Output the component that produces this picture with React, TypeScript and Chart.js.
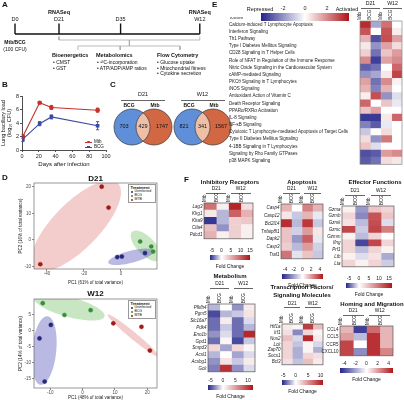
import React, { useEffect, useRef } from 'react';
import { Chart, registerables } from 'chart.js';

Chart.register(...registerables);
const FONT = '"Liberation Sans", Arial, Helvetica, sans-serif';
Chart.defaults.font.family = FONT;

// ---------------- DATA ----------------
// A: study timeline (schematic spacing units)
const timelineLabels = ['D0', 'D21', 'D35', 'W12'];
const timelineUnits = [0, 10, 24, 42];
const rnaSeqAt = ['D21', 'W12'];

// B: lung bacillary load
const infectionDays = [1, 21, 35, 90];
const mtbLoad = [2.0, 7.0, 6.3, 5.9];
const mtbLoadErr = [0.25, 0.12, 0.3, 0.3];
const bcgLoad = [1.6, 3.9, 4.9, 3.6];
const bcgLoadErr = [0.35, 0.3, 0.3, 0.6];

// C: Venn counts
const vennTimes = ['D21', 'W12'];
const vennBcgOnly = [703, 821];
const vennShared = [429, 341];
const vennMtbOnly = [1747, 1567];

// D: PCA
const pcaGroups = ['Uninfected', 'BCG', 'MTB'];
const d21Uninf = [[-2, -6.5], [0.5, -6.3], [13, -5]];
const d21Bcg = [[10.4, -0.6], [17.4, -4.4], [16.4, -2.5]];
const d21Mtb = [[-10.4, 20.1], [-6.7, 12.2], [-43.6, -9.2]];
const w12Uninf = [[-9.8, 1.7], [-13.3, -2.5], [-11.7, -16]];
const w12Bcg = [[-12.3, 8.5], [-5.6, 4.8], [2.5, 6.3]];
const w12Mtb = [[9.5, 2.2], [18.2, 1.1], [20.8, -6.3]];
// ellipses: centre, semi-axis vector u, semi-axis vector v (data units)
const d21Ellipses = [
  { g: 2, c: [-24.2, 5.3], u: [22.5, 16.1], v: [9, -6] },
  { g: 1, c: [13.6, -2.3], u: [7.6, -5.3], v: [3.4, 2.4] },
  { g: 0, c: [5.4, -6.4], u: [12.2, 2.2], v: [0.8, -2.2] },
];
const w12Ellipses = [
  { g: 1, c: [-4.1, 7.3], u: [10.9, -2.5], v: [-0.75, 3.4] },
  { g: 0, c: [-11.9, -6.3], u: [1.06, 10.7], v: [3.75, -0.38] },
  { g: 2, c: [15.6, -1.6], u: [7.5, -5.7], v: [-2.4, 3.3] },
];

// E: pathway z-scores (cols: D21 Mtb, D21 BCG, W12 Mtb, W12 BCG)
const pathways = [
  'Calcium-induced T Lymphocyte Apoptosis',
  'Interferon Signaling',
  'Th1 Pathway',
  'Type I Diabetes Mellitus Signaling',
  'CD28 Signaling in T Helper Cells',
  'Role of NFAT in Regulation of the Immune Response',
  'Nitric Oxide Signaling in the Cardiovascular System',
  'cAMP-mediated Signaling',
  'PKCθ Signaling in T Lymphocytes',
  'iNOS Signaling',
  'Antioxidant Action of Vitamin C',
  'Death Receptor Signaling',
  'PPARα/RXRα Activation',
  'IL-8 Signaling',
  'NF-κB Signaling',
  'Cytotoxic T Lymphocyte-mediated Apoptosis of Target Cells',
  'Type II Diabetes Mellitus Signaling',
  '4-1BB Signaling in T Lymphocytes',
  'Signaling by Rho Family GTPases',
  'p38 MAPK Signaling',
];
const pathwayZ = [
  [3.6, -1.6, 2.4, 0],
  [2.9, 0, 2.9, 0.3],
  [1.3, -3.2, 3.0, 1.6],
  [0.4, -2.0, 1.6, 0.6],
  [0.8, -2.6, 1.0, 1.7],
  [2.0, -3.5, 1.6, 2.0],
  [-2.9, -2.6, 0, 2.6],
  [-2.0, -1.6, 0.4, 3.2],
  [1.6, -2.6, 2.0, 0.2],
  [1.3, -2.3, 1.3, 0],
  [0.3, 3.0, -2.0, -0.6],
  [2.6, 0, 1.0, -0.4],
  [1.0, 1.6, 0, 0],
  [-3.6, -3.6, 0.4, 2.6],
  [-2.3, -3.0, -0.4, 0],
  [-1.0, 0, 0.6, 0],
  [0.6, -2.0, 2.3, 0],
  [1.0, -0.6, 0, 0],
  [-3.2, -3.0, 1.7, 2.0],
  [-3.0, -2.6, 0.6, 0.4],
];
const zTicks = [-2, 0, 2];

// F: fold changes
const colLabels = ['Mtb', 'BCG', 'Mtb', 'BCG'];
const inhibGenes = ['Lag3', 'Klrg1', 'Klra9', 'Ctla4', 'Pdcd1'];
const inhibFC = [[9, 1, 14, 2], [1.5, -2, 10, 5], [-5.5, -2, 3, 3.5], [4, -3, 3, 1], [5, 1, 3, 1]];
const apopGenes = ['Casp4', 'Casp12', 'Bcl2l14', 'Tnfaip8l1', 'Dapk2', 'Casp3', 'Traf1'];
const apopFC = [[1.5, 0, 2.5, 1.5], [0.5, -1.2, 1.5, -0.5], [4.2, -1.5, 4.0, -1.2], [1.2, -1.0, 2.0, 0.5], [1.2, -2.2, 3.2, -0.5], [1.0, -1.5, 2.0, -1.0], [2.8, -0.6, 1.2, -1.2]];
const effGenes = ['Gzma', 'Gzmb', 'Gzmk', 'Gzmc', 'Gzmm', 'Ifng', 'Prf1', 'Ltb', 'Lta'];
const effFC = [[1, -3, 4, 3], [3, -3.5, 12, 4], [2, -2, 12.5, -1], [13, -1.5, 13, 9], [1, -2, 3, 0], [3, -5.5, 13, 3], [3, -2, 3, 1], [1, -1, 2, -2.5], [3, 1, 3, -1.5]];
const metabGenes = ['Pfkfb4', 'Pgm5', 'Slc16a7', 'Pdk4', 'Eno1b', 'Gpd1', 'Smpd3', 'Acsl1', 'Acsbg1', 'Gck'];
const metabFC = [[-2, 0, -3, 1], [-5, -2, -1.5, 1.5], [-4, 1, -4, -1], [-4, -1.5, -4, -2], [-3, -1, -4, 11], [-4, 0.5, -5, -1.5], [2, -2.5, 2, 0.5], [-2, 0, -2.5, -1], [-3, 1.5, -1.5, 1], [-3.5, 10.5, -3, -1]];
const tfGenes = ['Hif1a', 'Irf1', 'Nos2', 'Lck', 'Zap70', 'Socs1', 'Bcl3'];
const tfFC = [[1, 0.5, 9, 3], [1.5, -3, 2, 0.5], [3, -1, 10, 1], [2, -1.5, 0.5, -1], [2, -2, 0.5, -2], [2, -2, 2, 1.5], [1.5, -1.5, 3, 1]];
const homingGenes = ['CCL4', 'CCL5', 'CCR5', 'CXCL10'];
const homingFC = [[1.5, -4.2, 3, 1.5], [2, -1.5, 4.2, 1.5], [3.8, 0, 4.2, 1.5], [3.8, -2.5, 4.2, 2.5]];
const fcTicks15 = [-5, 0, 5, 10, 15];
const fcTicks10 = [-5, 0, 5, 10];
const fcTicks4 = [-4, -2, 0, 2, 4];

// ---------------- STYLE ----------------
const BLUE = [36, 36, 138];
const RED = [176, 20, 24];
function divColor(v: number, min: number, max: number) {
  const t = v >= 0 ? Math.min(v / max, 1) : Math.min(v / min, 1);
  const c = v >= 0 ? RED : BLUE;
  const m = (a: number) => Math.round(255 + (a - 255) * t);
  return `rgb(${m(c[0])},${m(c[1])},${m(c[2])})`;
}
const rgb = (c: number[]) => `rgb(${c[0]},${c[1]},${c[2]})`;
const groupColor = ['#27297a', '#3a8d3a', '#a11a1a'];
const groupFill = ['rgba(70,70,185,0.38)', 'rgba(110,190,95,0.38)', 'rgba(220,100,100,0.33)'];
const noGrid = { display: false, drawTicks: false, tickLength: 0 };
const base = { responsive: false, animation: false, devicePixelRatio: 1, events: [] as any[] };
const pad = (top: number, right: number, bottom: number, left: number) => ({ autoPadding: false, padding: { top, right, bottom, left } });

const boxPlugin = (color: string, w: number) => ({
  id: 'boxline',
  afterDatasetsDraw(chart: any) {
    const { ctx, chartArea: a } = chart;
    ctx.save();
    ctx.strokeStyle = color;
    ctx.lineWidth = w;
    ctx.strokeRect(a.left, a.top, a.right - a.left, a.bottom - a.top);
    ctx.restore();
  },
});

// ---------------- CONFIGS ----------------
function timelineConfig() {
  const seg = (pts: number[][], color: string, w: number) => ({
    data: pts.map(([x, y]) => ({ x, y })), showLine: true, borderColor: color, borderWidth: w, pointRadius: 0, fill: false,
  });
  const u = timelineUnits;
  const d21 = u[timelineLabels.indexOf('D21')];
  const w12 = u[timelineLabels.indexOf('W12')];
  const mid = (d21 + w12) / 2;
  const ds = [
    seg([[u[0], 34], [u[3], 34]], '#111', 1.4),
    ...u.map((p) => seg([[p, 23.5], [p, 34]], '#111', 1.4)),
    seg([[d21, 36.5], [d21, 40], [w12, 40], [w12, 36.5]], '#aaa', 0.8),
    seg([[mid, 40], [mid, 46]], '#aaa', 0.8),
    seg([[14.3, 50], [14.3, 46], [37.5, 46], [37.5, 50]], '#aaa', 0.8),
    seg([[23.9, 46], [23.9, 50]], '#aaa', 0.8),
  ];
  return {
    type: 'scatter',
    data: { datasets: ds },
    options: {
      ...base,
      layout: pad(0, 0, 0, 0),
      plugins: { legend: { display: false }, tooltip: { enabled: false } },
      scales: { x: { display: false, min: -3.41, max: 44.32 }, y: { display: false, min: 0, max: 80, reverse: true } },
    },
  };
}

const errorBarPlugin = (errs: number[][]) => ({
  id: 'errbars',
  afterDatasetsDraw(chart: any) {
    const { ctx, scales: { x, y } } = chart;
    chart.data.datasets.forEach((ds: any, di: number) => {
      ctx.save();
      ctx.strokeStyle = ds.borderColor;
      ctx.lineWidth = 0.9;
      ds.data.forEach((p: any, k: number) => {
        const e = errs[di][k];
        const px = x.getPixelForValue(p.x);
        const y0 = y.getPixelForValue(p.y - e), y1 = y.getPixelForValue(p.y + e);
        ctx.beginPath();
        ctx.moveTo(px, y0); ctx.lineTo(px, y1);
        ctx.moveTo(px - 1.6, y0); ctx.lineTo(px + 1.6, y0);
        ctx.moveTo(px - 1.6, y1); ctx.lineTo(px + 1.6, y1);
        ctx.stroke();
      });
      ctx.restore();
    });
  },
});

const tickGrid = { display: true, drawOnChartArea: false, drawTicks: true, tickLength: 2, color: '#222', lineWidth: 0.8 };

function loadConfig() {
  const mk = (vals: number[], color: string, style: string) => ({
    data: infectionDays.map((d, k) => ({ x: d, y: vals[k] })),
    borderColor: color, backgroundColor: color, borderWidth: 1.1,
    pointRadius: 1.8, pointStyle: style, pointBackgroundColor: color, pointBorderColor: color, tension: 0,
  });
  return {
    type: 'line',
    data: { datasets: [mk(mtbLoad, '#c8302c', 'circle'), mk(bcgLoad, '#3b4ba3', 'rect')] },
    options: {
      ...base,
      layout: pad(10, 6, 0, 0),
      plugins: { legend: { display: false }, tooltip: { enabled: false } },
      scales: {
        x: {
          type: 'linear', min: 0, max: 100,
          ticks: { stepSize: 20, font: { size: 5.5 }, color: '#222', padding: 1, maxRotation: 0 },
          grid: tickGrid, border: { display: true, color: '#222', width: 0.8 },
          title: { display: true, text: 'Days after infection', font: { size: 6 }, color: '#111', padding: { top: 1, bottom: 0 } },
          afterFit: (s: any) => { s.height = 18; },
        },
        y: {
          type: 'linear', min: 0, max: 8,
          ticks: { stepSize: 2, font: { size: 5.5 }, color: '#222', padding: 1 },
          grid: tickGrid, border: { display: true, color: '#222', width: 0.8 },
          title: { display: true, text: ['Lung bacillary load', '(log₁₀ CFU)'], font: { size: 5.5 }, color: '#111', padding: { top: 0, bottom: 1 } },
          afterFit: (s: any) => { s.width = 22; },
        },
      },
    },
    plugins: [errorBarPlugin([mtbLoadErr, bcgLoadErr])],
  };
}

// Venn layout (canvas px units, canvas starts at x=108)
const vennCentres = [[24, 46], [84, 105]];
const vennY = 27;
const vennR = 18;
function vennConfig() {
  const bcg = vennCentres.map((c) => ({ x: c[0], y: vennY }));
  const mtb = vennCentres.map((c) => ({ x: c[1], y: vennY }));
  const lens = {
    id: 'lens',
    afterDatasetsDraw(chart: any) {
      const { ctx, scales: { x, y } } = chart;
      vennCentres.forEach((c) => {
        const ax = x.getPixelForValue(c[0]), bx = x.getPixelForValue(c[1]), cy = y.getPixelForValue(vennY);
        ctx.save();
        ctx.beginPath(); ctx.arc(ax, cy, vennR, 0, Math.PI * 2); ctx.clip();
        ctx.beginPath(); ctx.arc(bx, cy, vennR, 0, Math.PI * 2);
        ctx.fillStyle = '#eebfa7'; ctx.fill();
        ctx.restore();
        ctx.save();
        ctx.strokeStyle = '#3a3a3a'; ctx.lineWidth = 0.7;
        ctx.beginPath(); ctx.arc(ax, cy, vennR, 0, Math.PI * 2); ctx.stroke();
        ctx.beginPath(); ctx.arc(bx, cy, vennR, 0, Math.PI * 2); ctx.stroke();
        ctx.restore();
      });
    },
  };
  return {
    type: 'scatter',
    data: {
      datasets: [
        { data: bcg, pointRadius: vennR, pointBackgroundColor: '#5f8fd8', pointBorderWidth: 0 },
        { data: mtb, pointRadius: vennR, pointBackgroundColor: '#d26843', pointBorderWidth: 0 },
      ],
    },
    options: {
      ...base,
      clip: false,
      layout: pad(0, 0, 0, 0),
      plugins: { legend: { display: false }, tooltip: { enabled: false } },
      scales: { x: { display: false, min: 0, max: 126 }, y: { display: false, min: 0, max: 54, reverse: true } },
    },
    plugins: [lens],
  };
}

const ellipsePlugin = (ells: any[]) => ({
  id: 'ellipses',
  beforeDatasetsDraw(chart: any) {
    const { ctx, chartArea: a, scales: { x, y } } = chart;
    ctx.save();
    ctx.beginPath(); ctx.rect(a.left, a.top, a.right - a.left, a.bottom - a.top); ctx.clip();
    ells.forEach((e) => {
      ctx.beginPath();
      for (let k = 0; k <= 90; k++) {
        const t = (k / 90) * Math.PI * 2;
        const dx = e.c[0] + Math.cos(t) * e.u[0] + Math.sin(t) * e.v[0];
        const dy = e.c[1] + Math.cos(t) * e.u[1] + Math.sin(t) * e.v[1];
        const px = x.getPixelForValue(dx), py = y.getPixelForValue(dy);
        if (k) ctx.lineTo(px, py); else ctx.moveTo(px, py);
      }
      ctx.closePath();
      ctx.fillStyle = groupFill[e.g];
      ctx.fill();
    });
    ctx.restore();
  },
});

function pcaConfig(sets: number[][][], ells: any[], xr: number[], yr: number[], xs: number, ys: number, xTitle: string, yTitle: string, padTop: number, xH: number) {
  const pcaGrid = { display: true, drawOnChartArea: false, drawTicks: true, tickLength: 2, color: '#444', lineWidth: 0.6 };
  return {
    type: 'scatter',
    data: {
      datasets: sets.map((pts, g) => ({
        label: pcaGroups[g],
        data: pts.map(([x, y]) => ({ x, y })),
        pointRadius: 2.1, pointBackgroundColor: groupColor[g], pointBorderColor: groupColor[g], pointBorderWidth: 0.4,
      })),
    },
    options: {
      ...base,
      layout: pad(padTop, 3, 0, 0),
      plugins: { legend: { display: false }, tooltip: { enabled: false } },
      scales: {
        x: {
          type: 'linear', min: xr[0], max: xr[1],
          ticks: { stepSize: xs, includeBounds: false, font: { size: 4.5 }, color: '#4d4d4d', padding: 0.5, maxRotation: 0 },
          grid: pcaGrid, border: { display: false },
          title: { display: true, text: xTitle, font: { size: 4.5 }, color: '#222', padding: { top: 0.5, bottom: 0 } },
          afterFit: (s: any) => { s.height = xH; },
        },
        y: {
          type: 'linear', min: yr[0], max: yr[1],
          ticks: { stepSize: ys, includeBounds: false, font: { size: 4.5 }, color: '#4d4d4d', padding: 1 },
          grid: pcaGrid, border: { display: false },
          title: { display: true, text: yTitle, font: { size: 4.5 }, color: '#222', padding: { top: 1, bottom: 0 } },
          afterFit: (s: any) => { s.width = 17; },
        },
      },
    },
    plugins: [ellipsePlugin(ells), boxPlugin('#555', 0.6)],
  };
}

function heatConfig(p: any) {
  const spans: number[][] = p.spans;
  const total = spans[spans.length - 1][1];
  const centres = spans.map((s) => (s[0] + s[1]) / 2);
  return {
    type: 'bar',
    data: {
      labels: p.rows,
      datasets: colLabels.map((c, ci) => ({
        label: c,
        data: p.rows.map(() => [spans[ci][0], spans[ci][1]]),
        backgroundColor: p.rows.map((_: any, ri: number) => divColor(p.vals[ri][ci], p.min, p.max)),
        borderWidth: 0, barPercentage: 1, categoryPercentage: 1, grouped: false,
      })),
    },
    options: {
      ...base,
      indexAxis: 'y',
      layout: pad(0, p.padR, p.padB, 0),
      plugins: { legend: { display: false }, tooltip: { enabled: false } },
      scales: {
        x: {
          type: 'linear', position: 'top', min: 0, max: total,
          grid: noGrid, border: { display: false },
          afterBuildTicks: (s: any) => { s.ticks = centres.map((v) => ({ value: v })); },
          afterFit: (s: any) => { s.height = p.headerH; },
          ticks: { autoSkip: false, minRotation: 90, maxRotation: 90, padding: 1, font: { size: p.colFont }, color: '#222', callback: (_v: any, i: number) => colLabels[i] },
        },
        y: {
          type: 'category',
          grid: noGrid, border: { display: false },
          afterFit: (s: any) => { s.width = p.labelW; },
          ticks: { autoSkip: false, padding: p.labelPad, crossAlign: p.align, font: { size: p.font, style: p.italic ? 'italic' : 'normal' }, color: '#222' },
        },
      },
    },
    plugins: [boxPlugin(p.border, 0.7)],
  };
}

function colorbarConfig(min: number, max: number, ticks: number[], font: number, topH: number) {
  return {
    type: 'bar',
    data: {
      labels: ['fc'],
      datasets: [{
        data: [[min, max]],
        backgroundColor: (ctx: any) => {
          const chart = ctx.chart;
          if (!chart.chartArea || !chart.scales.x) return 'rgba(0,0,0,0)';
          const x0 = chart.scales.x.getPixelForValue(min), x1 = chart.scales.x.getPixelForValue(max);
          const g = chart.ctx.createLinearGradient(x0, 0, x1, 0);
          g.addColorStop(0, rgb(BLUE));
          g.addColorStop(-min / (max - min), '#ffffff');
          g.addColorStop(1, rgb(RED));
          return g;
        },
        borderWidth: 0, barPercentage: 1, categoryPercentage: 1,
      }],
    },
    options: {
      ...base,
      indexAxis: 'y',
      layout: pad(0, 6, 1, 6),
      plugins: { legend: { display: false }, tooltip: { enabled: false } },
      scales: {
        x: {
          type: 'linear', position: 'top', min, max,
          grid: noGrid, border: { display: false },
          afterBuildTicks: (s: any) => { s.ticks = ticks.map((v) => ({ value: v })); },
          afterFit: (s: any) => { s.height = topH; },
          ticks: { padding: 1, maxRotation: 0, font: { size: font }, color: '#222' },
        },
        y: { display: false },
      },
    },
  };
}

// ---------------- COMPONENTS ----------------
type Box = { x: number; y: number; w: number; h: number };
function ChartBox({ box, make }: { box: Box; make: () => any }) {
  const ref = useRef<HTMLCanvasElement | null>(null);
  useEffect(() => {
    if (!ref.current) return;
    const chart = new Chart(ref.current, make());
    return () => chart.destroy();
  }, []);
  return <canvas ref={ref} width={box.w} height={box.h} style={{ position: 'absolute', left: box.x, top: box.y, width: box.w, height: box.h }} />;
}

function Tx({ x, y, s = 5, b = false, i = false, a = 'm', c = '#111', t }: any) {
  const tx = a === 's' ? '0%' : a === 'e' ? '-100%' : '-50%';
  return (
    <div style={{ position: 'absolute', left: x, top: y, fontSize: s, fontWeight: b ? 700 : 400, fontStyle: i ? 'italic' : 'normal', color: c, whiteSpace: 'nowrap', lineHeight: 1, transform: `translate(${tx},-50%)` }}>{t}</div>
  );
}
function ULine({ x0, x1, y, c = '#666' }: any) {
  return <div style={{ position: 'absolute', left: x0, top: y, width: x1 - x0, height: 0, borderTop: `1px solid ${c}` }} />;
}

type FPanel = { key: string; title: string[]; tx: number; ty: number; rows: string[]; vals: number[][]; rect: number[]; labelW: number; headerH: number; hy: number; min: number; max: number; ticks: number[]; bar: number[]; italic: boolean };
const fPanels: FPanel[] = [
  { key: 'inhib', title: ['Inhibitory Receptors'], tx: 230, ty: 182, rows: inhibGenes, vals: inhibFC, rect: [204, 203, 253, 242], labelW: 20, headerH: 10, hy: 189, min: -6, max: 15, ticks: fcTicks15, bar: [210, 255, 250, 260], italic: true },
  { key: 'apop', title: ['Apoptosis'], tx: 302, ty: 182, rows: apopGenes, vals: apopFC, rect: [281, 204, 323, 262], labelW: 26, headerH: 10, hy: 189, min: -4.7, max: 4.7, ticks: fcTicks4, bar: [282, 274, 323, 279], italic: true },
  { key: 'eff', title: ['Effector Functions'], tx: 375, ty: 182, rows: effGenes, vals: effFC, rect: [342, 206, 394, 270], labelW: 20, headerH: 10, hy: 191, min: -6.5, max: 16.5, ticks: fcTicks15, bar: [346, 283, 392, 288], italic: true },
  { key: 'metab', title: ['Metabolism'], tx: 230, ty: 276, rows: metabGenes, vals: metabFC, rect: [208, 304, 255, 375], labelW: 26, headerH: 11, hy: 284, min: -6, max: 12, ticks: fcTicks10, bar: [208, 385, 253, 390], italic: true },
  { key: 'tf', title: ['Transcription Factors/', 'Signaling Molecules'], tx: 302, ty: 287, rows: tfGenes, vals: tfFC, rect: [282, 324, 323, 368], labelW: 22, headerH: 11, hy: 303.5, min: -5.5, max: 11, ticks: fcTicks10, bar: [282, 380, 323, 385], italic: true },
  { key: 'homing', title: ['Homing and Migration'], tx: 372, ty: 304, rows: homingGenes, vals: homingFC, rect: [340, 326, 393, 359], labelW: 26, headerH: 10, hy: 311, min: -4.8, max: 4.8, ticks: fcTicks4, bar: [340, 368, 393, 373], italic: false },
];

function FPanelView({ p }: { p: FPanel }) {
  const [l, t, r, b] = p.rect;
  const cw = (r - l) / 4;
  const hbox = { x: l - p.labelW, y: t - p.headerH, w: p.labelW + (r - l) + 1, h: p.headerH + (b - t) + 1 };
  const [bl, bt, br, bb] = p.bar;
  const cbox = { x: bl - 6, y: bt - 7, w: br - bl + 12, h: 7 + (bb - bt) + 1 };
  const d21 = l + cw, w12 = l + 3 * cw;
  return (
    <>
      {p.title.map((tt, k) => <Tx key={k} x={p.tx} y={p.ty + k * 8} s={6} b t={tt} />)}
      <Tx x={d21} y={p.hy} s={4.8} t="D21" />
      <Tx x={w12} y={p.hy} s={4.8} t="W12" />
      <ULine x0={d21 - cw * 0.8} x1={d21 + cw * 0.8} y={p.hy + 3.5} />
      <ULine x0={w12 - cw * 0.8} x1={w12 + cw * 0.8} y={p.hy + 3.5} />
      <ChartBox box={hbox} make={() => heatConfig({ rows: p.rows, vals: p.vals, spans: [[0, 1], [1, 2], [2, 3], [3, 4]], min: p.min, max: p.max, labelW: p.labelW, headerH: p.headerH, padR: 1, padB: 1, font: 4.5, colFont: 4.5, labelPad: 1.5, italic: p.italic, align: 'near', border: '#555' })} />
      <ChartBox box={cbox} make={() => colorbarConfig(p.min, p.max, p.ticks, 5, 7)} />
      <Tx x={(bl + br) / 2} y={bb + 5.5} s={5} t="Fold Change" />
    </>
  );
}

function PcaLegend({ x, y }: any) {
  return (
    <div style={{ position: 'absolute', left: x, top: y, width: 28, height: 19, border: '1px solid #999', boxSizing: 'border-box', background: '#fff' }}>
      <Tx x={1.5} y={3} s={4} b a="s" t="Treatment" />
      {pcaGroups.map((g, k) => (
        <React.Fragment key={g}>
          <div style={{ position: 'absolute', left: 1.8, top: 6.8 + k * 4 - 1.3, width: 2.6, height: 2.6, borderRadius: '50%', background: groupColor[k] }} />
          <Tx x={5.5} y={6.8 + k * 4} s={3.5} a="s" t={g} />
        </React.Fragment>
      ))}
    </div>
  );
}

export default function App() {
  const tlPx = (u: number) => 15 + u * 4.4;
  return (
    <div style={{ position: 'absolute', left: 0, top: 0, width: 404, height: 400, background: '#fff', overflow: 'hidden', fontFamily: FONT, color: '#111' }}>
      {/* A */}
      <ChartBox box={{ x: 0, y: 0, w: 210, h: 80 }} make={timelineConfig} />
      <Tx x={2} y={5} s={8} b a="s" t="A" />
      {timelineLabels.map((lab, k) => (
        <React.Fragment key={lab}>
          <Tx x={tlPx(timelineUnits[k])} y={19.5} s={5.5} t={lab} />
          {rnaSeqAt.includes(lab) && <Tx x={tlPx(timelineUnits[k])} y={13} s={5.5} b t="RNASeq" />}
        </React.Fragment>
      ))}
      <Tx x={15} y={42} s={5} b t="Mtb/BCG" />
      <Tx x={15} y={48.5} s={5} t="(100 CFU)" />
      <Tx x={52} y={56} s={5.5} b a="s" t="Bioenergetics" />
      <Tx x={53} y={62} s={5} a="s" t="• CMST" />
      <Tx x={53} y={67.5} s={5} a="s" t="• GST" />
      <Tx x={96} y={56} s={5.5} b a="s" t="Metabolomics" />
      <Tx x={97} y={62} s={5} a="s" t="• ¹³C-incorporation" />
      <Tx x={97} y={67.5} s={5} a="s" t="• ATP/ADP/AMP ratios" />
      <Tx x={157} y={56} s={5.5} b a="s" t="Flow Cytometry" />
      <Tx x={157} y={62} s={5} a="s" t="• Glucose uptake" />
      <Tx x={157} y={67.5} s={5} a="s" t="• Mitochondrial fitness" />
      <Tx x={157} y={73} s={5} a="s" t="• Cytokine secretion" />

      {/* B */}
      <ChartBox box={{ x: 0, y: 86, w: 112, h: 82 }} make={loadConfig} />
      <Tx x={2} y={85} s={8} b a="s" t="B" />
      <div style={{ position: 'absolute', left: 85, top: 141.5, width: 7, height: 0, borderTop: '1px solid #c8302c' }} />
      <div style={{ position: 'absolute', left: 87.3, top: 140.8, width: 2.6, height: 2.6, borderRadius: '50%', background: '#c8302c' }} />
      <Tx x={94} y={142} s={4.5} a="s" t="Mtb" />
      <div style={{ position: 'absolute', left: 85, top: 146.5, width: 7, height: 0, borderTop: '1px solid #3b4ba3' }} />
      <div style={{ position: 'absolute', left: 87.3, top: 145.8, width: 2.6, height: 2.6, background: '#3b4ba3' }} />
      <Tx x={94} y={147} s={4.5} a="s" t="BCG" />

      {/* C */}
      <ChartBox box={{ x: 108, y: 100, w: 126, h: 54 }} make={vennConfig} />
      <Tx x={110} y={85} s={8} b a="s" t="C" />
      {vennTimes.map((tp, k) => {
        const bx = vennCentres[k][0] + 108, mx = vennCentres[k][1] + 108;
        const cx = (bx + mx) / 2;
        return (
          <React.Fragment key={tp}>
            <Tx x={cx} y={95} s={5.5} t={tp} />
            <ULine x0={cx - 22} x1={cx + 22} y={99.5} />
            <Tx x={bx - 3} y={105} s={5} b t="BCG" />
            <Tx x={mx + 1} y={105} s={5} b t="Mtb" />
            <Tx x={bx - 8} y={127} s={5.5} t={String(vennBcgOnly[k])} />
            <Tx x={cx} y={127} s={5.5} t={String(vennShared[k])} />
            <Tx x={mx + 8} y={127} s={5.5} t={String(vennMtbOnly[k])} />
          </React.Fragment>
        );
      })}

      {/* D */}
      <Tx x={2} y={178} s={8} b a="s" t="D" />
      <Tx x={95.5} y={179} s={8} b t="D21" />
      <ChartBox box={{ x: 17, y: 176, w: 143, h: 109 }} make={() => pcaConfig([d21Uninf, d21Bcg, d21Mtb], d21Ellipses, [-47, 19.5], [-11, 21.5], 20, 10, 'PC1 (61% of total variance)', 'PC2 (16% of total variance)', 7, 16)} />
      <PcaLegend x={128} y={184} />
      <Tx x={95.5} y={294} s={8} b t="W12" />
      <ChartBox box={{ x: 17, y: 293, w: 143, h: 107 }} make={() => pcaConfig([w12Uninf, w12Bcg, w12Mtb], w12Ellipses, [-15, 23], [-18, 9.8], 10, 5, 'PC1 (48% of total variance)', 'PC2 (14% of total variance)', 6, 12)} />
      <PcaLegend x={128} y={300} />

      {/* E */}
      <Tx x={212} y={5} s={8} b a="s" t="E" />
      <Tx x={260} y={10} s={5.5} t="Repressed" />
      <Tx x={347} y={10} s={5.5} t="Activated" />
      <Tx x={230} y={18} s={4} a="s" t="z-score" />
      <ChartBox box={{ x: 255, y: 5, w: 100, h: 17 }} make={() => colorbarConfig(-4, 4, zTicks, 5.5, 8)} />
      <Tx x={370.5} y={3.5} s={5.2} t="D21" />
      <ULine x0={361} x1={380} y={7.5} />
      <Tx x={392.5} y={3.5} s={5.2} t="W12" />
      <ULine x0={383} x1={402} y={7.5} />
      <ChartBox box={{ x: 229, y: 0, w: 175, h: 169 }} make={() => heatConfig({ rows: pathways, vals: pathwayZ, spans: [[0, 1], [1, 2], [2.08, 3.08], [3.08, 4.08]], min: -4, max: 4, labelW: 131, headerH: 21, padR: 2, padB: 2, font: 4.5, colFont: 4.8, labelPad: 2, italic: false, align: 'far', border: '#888' })} />

      {/* F */}
      <Tx x={184} y={180} s={8} b a="s" t="F" />
      {fPanels.map((p) => <FPanelView key={p.key} p={p} />)}
    </div>
  );
}
